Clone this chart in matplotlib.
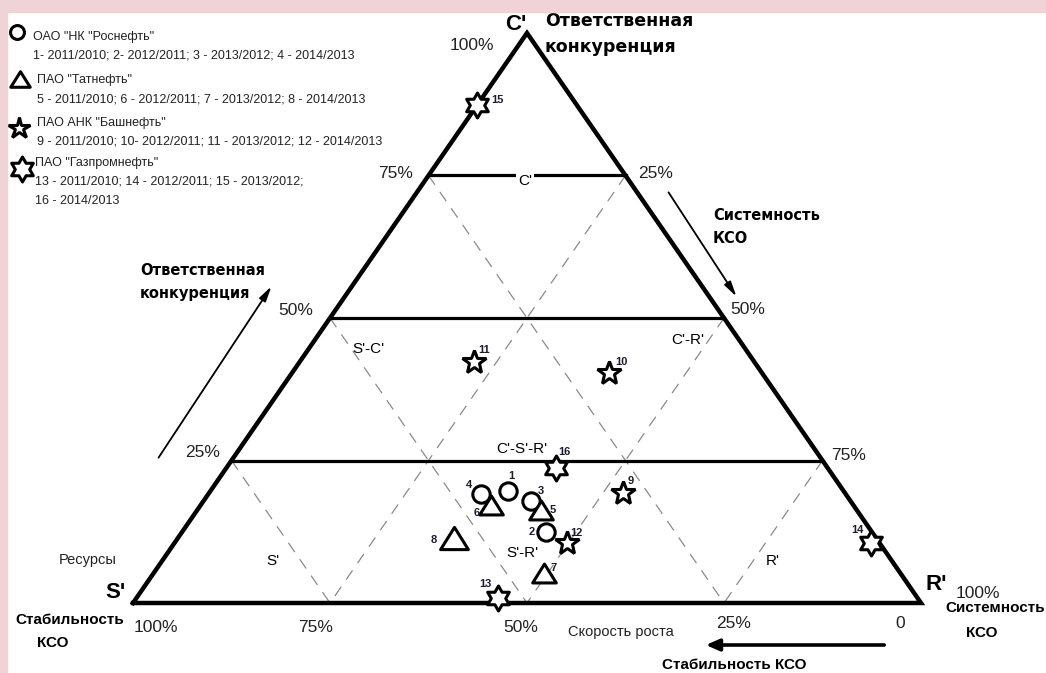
import matplotlib
matplotlib.use("Agg")
import matplotlib.pyplot as plt
import numpy as np
from matplotlib.path import Path
from matplotlib.patches import Rectangle

# доли в %: S' - стабильность КСО, C' - ответственная конкуренция, R' - системность КСО
point_labels = ["1", "2", "3", "4", "5", "6", "7", "8",
                "9", "10", "11", "12", "13", "14", "15", "16"]
s_vals = [42.6, 41.3, 40.5, 46.3, 40.1, 46.0, 45.2, 53.6,
          28.2, 19.4, 35.6, 39.7, 53.2, 1.1, 12.6, 34.5]
c_vals = [19.6, 12.5, 17.9, 19.1, 16.3, 17.2, 5.3, 11.4,
          19.3, 40.4, 42.3, 10.5, 0.9, 10.5, 87.4, 23.7]
r_vals = [37.8, 46.2, 41.6, 34.6, 43.6, 36.8, 49.5, 35.0,
          52.5, 40.2, 22.1, 49.8, 45.9, 88.4, 0.0, 41.8]
point_company = [0, 0, 0, 0, 1, 1, 1, 1, 2, 2, 2, 2, 3, 3, 3, 3]

companies = ['ОАО "НК "Роснефть"', 'ПАО "Татнефть"', 'ПАО АНК "Башнефть"', 'ПАО "Газпромнефть"']
periods = [["1- 2011/2010; 2- 2012/2011; 3 - 2013/2012; 4 - 2014/2013"],
           ["5 - 2011/2010; 6 - 2012/2011; 7 - 2013/2012; 8 - 2014/2013"],
           ["9 - 2011/2010; 10- 2012/2011; 11 - 2013/2012; 12 - 2014/2013"],
           ["13 - 2011/2010; 14 - 2012/2011; 15 - 2013/2012;", "16 - 2014/2013"]]

levels = [25, 50, 75]
side_ticks = [25, 50, 75, 100]
base_ticks = [100, 75, 50, 25, 0]


def tern(s, c, r):
    # барицентрические -> декартовы (S' слева, R' справа, C' сверху)
    s, c, r = np.asarray(s) / 100., np.asarray(c) / 100., np.asarray(r) / 100.
    return r + c / 2., c


def px(x, y):
    # пиксели картинки -> координаты осей
    return (x - 133) / 788., (603 - y) / 570.


# шестиконечная звезда
ang = np.deg2rad(np.arange(90, 480, 30))
rad = np.where(np.arange(13) % 2 == 0, 1.0, 1 / np.sqrt(3))
hexa = Path(np.column_stack([rad * np.cos(ang), rad * np.sin(ang)]), closed=True)
# треугольник пошире, чем стандартный '^'
tri = Path([[0, 0.8], [-1, -0.8], [1, -0.8], [0, 0.8]], closed=True)

fig = plt.figure(figsize=(10.46, 6.73), dpi=100)
ax = fig.add_axes([0, 0, 1, 1])
ax.set_xlim(-133 / 788., (1046 - 133) / 788.)
ax.set_ylim(-70 / 570., 603 / 570.)
ax.set_axis_off()

# розовая рамка
fig.patches.append(Rectangle((0, 1 - 12 / 673.), 1, 12 / 673., transform=fig.transFigure,
                             color="#efd3d5", zorder=0))
fig.patches.append(Rectangle((0, 0), 7 / 1046., 1, transform=fig.transFigure,
                             color="#efd3d5", zorder=0))

# пунктирная сетка
for h in levels:
    x0, y0 = tern(100 - h, h, 0)
    x1, y1 = tern(100 - h, 0, h)
    ax.plot([x0, x1], [y0, y1], color="#8a8a8a", lw=0.9, dashes=(9, 7), zorder=1)
    x0, y0 = tern(0, h, 100 - h)
    x1, y1 = tern(h, 0, 100 - h)
    ax.plot([x0, x1], [y0, y1], color="#8a8a8a", lw=0.9, dashes=(9, 7), zorder=1)

# горизонтальные линии
for h in levels:
    x0, y0 = tern(100 - h, h, 0)
    x1, y1 = tern(0, h, 100 - h)
    ax.plot([x0, x1], [y0, y1], color="black", lw=2.3, zorder=2)

# треугольник
tx, ty = tern([100, 0, 0, 100], [0, 0, 100, 0], [0, 100, 0, 0])
ax.plot(tx, ty, color="black", lw=3.2, solid_joinstyle="miter", zorder=3)

# подписи шкал
left_off = {25: (-29, 8), 50: (-34, 7), 75: (-33, 2), 100: (-55, -13)}
right_off = {25: (30, 2), 50: (24, 8), 75: (26, 5), 100: (57, 10)}
base_off = {100: (23, -25), 75: (-14, -25), 50: (-6, -25), 25: (10, -21), 0: (-21, -21)}
pct = dict(fontsize=12.5, family="Liberation Sans", ha="center", va="center",
           textcoords="offset pixels", color="#222222")
for v in side_ticks:
    ax.annotate("%d%%" % v, tern(100 - v, v, 0), xytext=left_off[v], **pct)
    ax.annotate("%d%%" % v, tern(0, 100 - v, v), xytext=right_off[v], **pct)
for v in base_ticks:
    ax.annotate("%d%%" % v if v else "0", tern(v, 0, 100 - v), xytext=base_off[v], **pct)

# подписи областей
reg = dict(fontsize=11, family="Liberation Sans", ha="center", va="center", zorder=4)
ax.text(*px(525, 181), "C'", bbox=dict(fc="white", ec="none", pad=1.5), **reg)
ax.text(*px(368, 349), "S'-C'", **reg)
ax.text(*px(688, 340), "C'-R'", **reg)
ax.text(*px(522, 449), "C'-S'-R'", **reg)
ax.text(*px(273, 561), "S'", **reg)
ax.text(*px(773, 561), "R'", **reg)
ax.text(*px(522, 553), "S'-R'", **reg)

# вершины
vtx = dict(fontsize=16, family="Liberation Sans", weight="bold", ha="center", va="center")
ax.text(*px(516, 25), "C'", **vtx)
ax.text(*px(115, 593), "S'", **vtx)
ax.text(*px(936, 585), "R'", **vtx)

# названия осей
b1 = dict(family="DejaVu Sans", weight="bold", ha="left", va="center", linespacing=1.6)
ax.text(*px(545, 34), "Ответственная\nконкуренция", fontsize=12.5, **b1)
ax.text(*px(713, 227), "Системность\nКСО", fontsize=10.5, **b1)
ax.text(*px(140, 282), "Ответственная\nконкуренция", fontsize=10.5, **b1)
b2 = dict(fontsize=11, family="Liberation Sans", weight="bold", ha="center", va="center")
ax.text(*px(70, 620), "Стабильность", **b2)
ax.text(*px(53, 643), "КСО", **b2)
ax.text(*px(995, 608), "Системность", **b2)
ax.text(*px(982, 633), "КСО", **b2)
ax.text(*px(734, 665), "Стабильность КСО", **b2)
nrm = dict(fontsize=10.5, family="Liberation Sans", ha="center", va="center", color="#222222")
ax.text(*px(621, 632), "Скорость роста", **nrm)
ax.text(*px(88, 560), "Ресурсы", **nrm)

# стрелки
ax.annotate("", xy=px(273, 284), xytext=px(157, 460),
            arrowprops=dict(arrowstyle="-|>,head_length=0.9,head_width=0.22", lw=1.3, color="black"))
ax.annotate("", xy=px(738, 299), xytext=px(667, 190),
            arrowprops=dict(arrowstyle="-|>,head_length=0.9,head_width=0.22", lw=1.3, color="black"))
ax.annotate("", xy=px(703, 645), xytext=px(887, 645),
            arrowprops=dict(arrowstyle="-|>,head_length=0.8,head_width=0.35", lw=2.6, color="black"))

# точки
markers = ["o", tri, "*", hexa]
sizes = [12.5, 17, 18, 18]
big = {"8": 20}
num_off = [(3, 15), (-15, 0), (10, 10), (-12, 9), (12, 0), (-14, -8), (10, 5), (-20, -2),
           (8, 12), (12, 11), (10, 12), (10, 10), (-13, 14), (-14, 13), (20, 5), (9, 16)]
px_, py_ = tern(s_vals, c_vals, r_vals)
for i, lab in enumerate(point_labels):
    k = point_company[i]
    ax.plot(px_[i], py_[i], marker=markers[k], ms=big.get(lab, sizes[k]), mfc="white",
            mec="black", mew=2.2, ls="none", zorder=5)
    ax.annotate(lab, (px_[i], py_[i]), xytext=num_off[i], textcoords="offset pixels",
                fontsize=8, weight="bold", family="Liberation Sans", color="#1c1c30",
                ha="center", va="center", zorder=6)

# легенда
leg_mk = [(17, 32), (20, 79), (19, 128), (22, 169)]
leg_tx = [(33, 37), (37, 80), (37, 123), (35, 163)]
for k in range(4):
    fx, fy = leg_mk[k]
    ax.plot(*px(fx, fy), marker=markers[k], ms=[10, 14, 16, 18][k], mfc="white", mec="black",
            mew=2.2, ls="none", clip_on=False)
    tx0, ty0 = leg_tx[k]
    lines = [companies[k]] + periods[k]
    for j, line in enumerate(lines):
        ax.text(*px(tx0, ty0 + j * 19), line, fontsize=9, family="Liberation Sans",
                ha="left", va="center", color="#222222")

fig.savefig("out.png", dpi=100)
